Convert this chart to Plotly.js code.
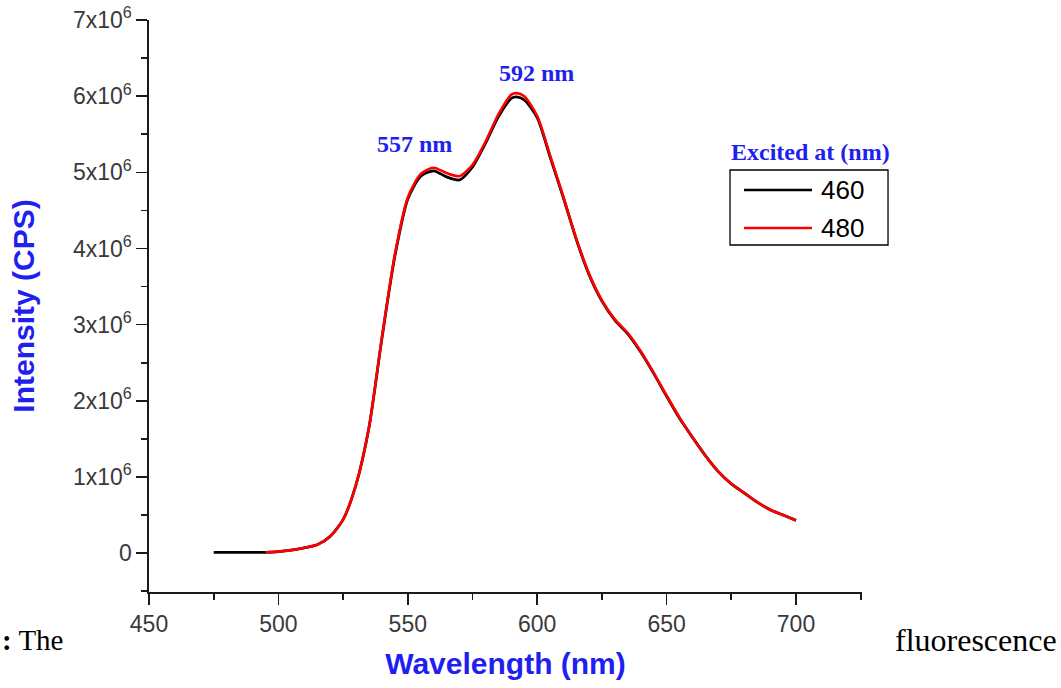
<!DOCTYPE html>
<html>
<head>
<meta charset="utf-8">
<script src="https://cdn.plot.ly/plotly-3.0.1.min.js"></script>
<style>html,body{margin:0;padding:0;background:#fff;}#chart{width:1061px;height:688px;}</style>
</head>
<body>
<div id="chart"></div>
<script>
// Wavelength (nm) and intensity (x10^6 CPS)
const wl460 = [475,480,485,490,495,500,505,510,515,520,525,530,535,540,545,550,555,560,565,570,575,580,585,590,592,595,600,605,610,615,620,625,630,635,640,645,650,655,660,665,670,675,680,685,690,695,700];
const int460 = [0.01,0.01,0.01,0.01,0.01,0.02,0.04,0.07,0.11,0.22,0.44,0.90,1.65,2.82,3.90,4.65,4.95,5.02,4.94,4.90,5.07,5.38,5.73,5.97,5.99,5.95,5.72,5.20,4.68,4.13,3.66,3.31,3.06,2.88,2.64,2.36,2.06,1.77,1.52,1.28,1.07,0.91,0.79,0.67,0.57,0.50,0.43];
const wl480 = [495,500,505,510,515,520,525,530,535,540,545,550,555,560,565,570,575,580,585,590,592,595,600,605,610,615,620,625,630,635,640,645,650,655,660,665,670,675,680,685,690,695,700];
const int480 = [0.01,0.02,0.04,0.07,0.11,0.22,0.44,0.90,1.65,2.83,3.92,4.67,4.98,5.06,4.99,4.95,5.10,5.40,5.76,6.02,6.04,6.00,5.74,5.22,4.69,4.14,3.67,3.32,3.07,2.89,2.65,2.37,2.07,1.78,1.52,1.28,1.07,0.91,0.79,0.67,0.57,0.50,0.43];
const seriesNames = ["460","480"];
const seriesColors = ["#000000","#ff0000"];
const yTickVals = [0,1,2,3,4,5,6,7];
const yTickText = ["0","1x10<sup>6</sup>","2x10<sup>6</sup>","3x10<sup>6</sup>","4x10<sup>6</sup>","5x10<sup>6</sup>","6x10<sup>6</sup>","7x10<sup>6</sup>"];
const xTickVals = [450,500,550,600,650,700];
const peakLabels = [{x:557, y:5.02, text:"557 nm"},{x:592, y:5.99, text:"592 nm"}];

const toCPS = a => a.map(v => v*1e6);
const blue = "#1f1ff0";
const sans = "Arial, Liberation Sans, sans-serif";
const serif = "Liberation Serif, Times New Roman, serif";

const traces = [
  {x: wl460, y: toCPS(int460), name: seriesNames[0], type: "scatter", mode: "lines",
   line: {color: seriesColors[0], width: 2.8, shape: "spline", smoothing: 0.7}},
  {x: wl480, y: toCPS(int480), name: seriesNames[1], type: "scatter", mode: "lines",
   line: {color: seriesColors[1], width: 2.6, shape: "spline", smoothing: 0.7}}
];

const tickFont = {family: sans, size: 23, color: "#3a3a3a"};

// legend box drawn in paper coordinates (longer line samples than Plotly's built-in legend)
const lg = {x0: 0.8149, x1: 1.0365, y0: 0.6066, y1: 0.7378, rows: [0.7028, 0.6364], lx0: 0.8345, lx1: 0.9299, tx: 0.9390};
const shapes = [
  {type: "rect", xref: "paper", yref: "paper", x0: lg.x0, x1: lg.x1, y0: lg.y0, y1: lg.y1,
   line: {color: "#000000", width: 1.3}, fillcolor: "#ffffff", layer: "above"}
];
const legendAnn = [];
seriesNames.forEach((n, i) => {
  shapes.push({type: "line", xref: "paper", yref: "paper", x0: lg.lx0, x1: lg.lx1, y0: lg.rows[i], y1: lg.rows[i],
               line: {color: seriesColors[i], width: 2.6}, layer: "above"});
  legendAnn.push({x: lg.tx, y: lg.rows[i], xref: "paper", yref: "paper", xanchor: "left", yanchor: "middle",
                  text: n, showarrow: false, font: {family: sans, size: 26, color: "#000000"}});
});

const layout = {
  width: 1061, height: 688,
  margin: {l: 149, r: 199, t: 20, b: 96},
  paper_bgcolor: "#ffffff", plot_bgcolor: "#ffffff",
  showlegend: false,
  xaxis: {range: [450, 725.5], showgrid: false, zeroline: false,
          showline: true, linecolor: "#1a1a1a", linewidth: 1.6,
          ticks: "outside", ticklen: 11, tickwidth: 1.6, tickcolor: "#1a1a1a",
          tickvals: xTickVals, tickfont: tickFont,
          minor: {dtick: 25, ticks: "outside", ticklen: 6, tickwidth: 1.6, tickcolor: "#1a1a1a"},
          title: {text: "<b>Wavelength (nm)</b>", standoff: 17,
                  font: {family: sans, size: 30, color: blue}}},
  yaxis: {range: [-0.51e6, 7e6], showgrid: false, zeroline: false,
          showline: true, linecolor: "#1a1a1a", linewidth: 1.6,
          ticks: "outside", ticklen: 11, tickwidth: 1.6, tickcolor: "#1a1a1a",
          tickvals: yTickVals.map(v => v*1e6), ticktext: yTickText, tickfont: tickFont,
          minor: {dtick: 0.5e6, ticks: "outside", ticklen: 6, tickwidth: 1.6, tickcolor: "#1a1a1a"},
          title: {text: "<b>Intensity (CPS)</b>", standoff: 29,
                  font: {family: sans, size: 30, color: blue}}},
  shapes: shapes,
  annotations: [
    {x: peakLabels[0].x, y: peakLabels[0].y*1e6, xref: "x", yref: "y", text: "<b>" + peakLabels[0].text + "</b>",
     showarrow: false, xshift: -11, yshift: 27,
     font: {family: serif, size: 24, color: blue}},
    {x: peakLabels[1].x, y: peakLabels[1].y*1e6, xref: "x", yref: "y", text: "<b>" + peakLabels[1].text + "</b>",
     showarrow: false, xshift: 20, yshift: 24,
     font: {family: serif, size: 24, color: blue}},
    {x: 0.9271, y: 0.769, xref: "paper", yref: "paper", xanchor: "center", yanchor: "middle",
     text: "<b>Excited at (nm)</b>", showarrow: false,
     font: {family: serif, size: 24, color: blue}},
    {x: 1.0435, y: -0.084, xref: "paper", yref: "paper", xanchor: "left", yanchor: "middle",
     text: "fluorescence", showarrow: false,
     font: {family: serif, size: 32, color: "#000000"}},
    {x: -0.209, y: -0.084, xref: "paper", yref: "paper", xanchor: "left", yanchor: "middle",
     text: "<b>:</b> The", showarrow: false,
     font: {family: serif, size: 29, color: "#000000"}}
  ].concat(legendAnn)
};

Plotly.newPlot("chart", traces, layout, {displayModeBar: false, staticPlot: true});
</script>
</body>
</html>
